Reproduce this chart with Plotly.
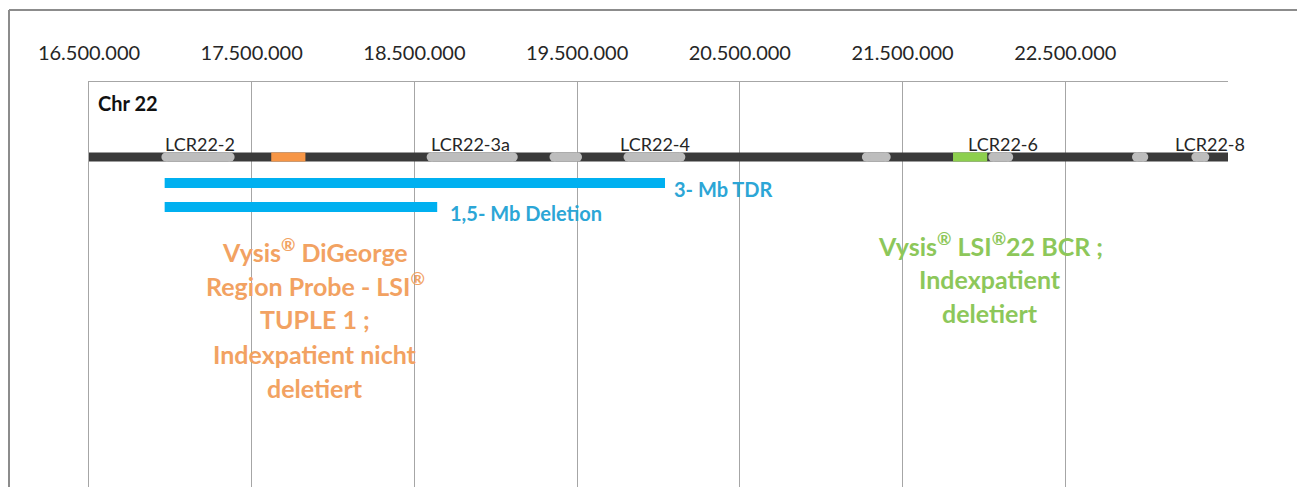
import plotly.graph_objects as go

# ---------------- data ----------------
tick_vals = [16500000, 17500000, 18500000, 19500000, 20500000, 21500000, 22500000]
tick_text = ["16.500.000", "17.500.000", "18.500.000", "19.500.000",
             "20.500.000", "21.500.000", "22.500.000"]
chrom_start = 16500000
chrom_end = 23500000

lcr_starts = [16945000, 18575000, 19330000, 19785000, 21250000, 22027000, 22910000, 23275000]
lcr_ends   = [17395000, 19135000, 19530000, 20165000, 21427000, 22180000, 23010000, 23385000]

lcr_label_names = ["LCR22-2", "LCR22-3a", "LCR22-4", "LCR22-6", "LCR22-8"]
lcr_label_pos   = [17180000, 18845000, 19980000, 22120000, 23390000]

probe_names  = ["DiGeorge", "BCR"]
probe_starts = [17620000, 21810000]
probe_ends   = [17830000, 22020000]

deletion_names  = ["3- Mb TDR", "1,5- Mb Deletion"]
deletion_starts = [16965000, 16965000]
deletion_ends   = [20040000, 18640000]
deletion_label_x = [20080000, 18706000]

orange_lines = ["Vysis<sup>®</sup> DiGeorge", "Region Probe - LSI<sup>®</sup>", "TUPLE 1 ;",
                "Indexpatient nicht", "deletiert"]
green_lines = ["Vysis<sup>®</sup> LSI<sup>®</sup>22 BCR ;", "Indexpatient", "deletiert"]

# ---------------- layout constants ----------------
# page body has an 8px margin, so figure coords = screen coords - 8
W, H = 1297, 479
ML, MR, MT, MB = 81, 77, 74, 0
plot_w = W - ML - MR
plot_h = H - MT - MB
bp_per_px = (chrom_end - chrom_start) / plot_w

FONT = "Lato"
GRID = "#A6A6A6"
DARK = "#3A3A3A"
LCR_GRAY = "#BDBDBD"
BLUE = "#00B0F0"
BLUE_TXT = "#2CA6D6"
ORANGE = "#F79646"
ORANGE_TXT = "#F2A262"
GREEN = "#8DCF4E"
GREEN_TXT = "#8DC75A"

y_chrom, h_chrom = 75, 9
y_del = [101, 125]
h_del = 10

shapes = []
annotations = []

# chromosome bar
shapes.append(dict(type="rect", xref="x", yref="y", x0=chrom_start, x1=chrom_end,
                   y0=y_chrom - h_chrom / 2, y1=y_chrom + h_chrom / 2,
                   fillcolor=DARK, line=dict(width=0), layer="above"))

# LCR pills
r = h_chrom / 2
for s, e in zip(lcr_starts, lcr_ends):
    shapes.append(dict(type="rect", xref="x", yref="y", x0=s + r * bp_per_px, x1=e - r * bp_per_px,
                       y0=y_chrom - h_chrom / 2, y1=y_chrom + h_chrom / 2,
                       fillcolor=LCR_GRAY, line=dict(width=0), layer="above"))
    for xc in (s + r * bp_per_px, e - r * bp_per_px):
        shapes.append(dict(type="circle", xref="x", yref="y", xsizemode="pixel", ysizemode="pixel",
                           xanchor=xc, yanchor=y_chrom, x0=-r, x1=r, y0=-r, y1=r,
                           fillcolor=LCR_GRAY, line=dict(width=0), layer="above"))

# probes
for s, e, c in zip(probe_starts, probe_ends, [ORANGE, GREEN]):
    shapes.append(dict(type="rect", xref="x", yref="y", x0=s, x1=e,
                       y0=y_chrom - h_chrom / 2, y1=y_chrom + h_chrom / 2,
                       fillcolor=c, line=dict(width=0), layer="above"))

# deletions
for s, e, y in zip(deletion_starts, deletion_ends, y_del):
    shapes.append(dict(type="rect", xref="x", yref="y", x0=s, x1=e,
                       y0=y - h_del / 2, y1=y + h_del / 2,
                       fillcolor=BLUE, line=dict(width=0), layer="above"))

# outer frame (screen x=8 -> fig x=1, screen y=10 -> fig y=2)
fy = 1 + (MT - 2) / plot_h
fx = (1 - ML) / plot_w
shapes.append(dict(type="line", xref="paper", yref="paper", x0=fx, x1=1 + MR / plot_w + 0.02, y0=fy, y1=fy,
                   line=dict(color="#8C8C8C", width=2)))
shapes.append(dict(type="line", xref="paper", yref="paper", x0=fx, x1=fx, y0=fy, y1=-0.05,
                   line=dict(color="#8C8C8C", width=2)))

# LCR labels
for name, x in zip(lcr_label_names, lcr_label_pos):
    annotations.append(dict(x=x, y=62, xref="x", yref="y", text=name, showarrow=False,
                            xanchor="center", yanchor="middle",
                            font=dict(family=FONT, size=18, color="#262626")))

# deletion labels
for name, x, y in zip(deletion_names, deletion_label_x, y_del):
    annotations.append(dict(x=x, y=y + 6, xref="x", yref="y", text="<b>" + name + "</b>", showarrow=False,
                            xanchor="left", yanchor="middle",
                            font=dict(family=FONT, size=20, color=BLUE_TXT)))

# Chr 22
annotations.append(dict(x=chrom_start + 7 * bp_per_px, y=21, xref="x", yref="y", text="<b>Chr 22</b>",
                        showarrow=False, xanchor="left", yanchor="middle",
                        font=dict(family=FONT, size=20, color="#111111")))

# orange probe text
for i, line in enumerate(orange_lines):
    annotations.append(dict(x=17890000, y=168 + i * 34.5, xref="x", yref="y", text="<b>" + line + "</b>",
                            showarrow=False, xanchor="center", yanchor="middle",
                            font=dict(family=FONT, size=25, color=ORANGE_TXT)))

# green probe text
for i, line in enumerate(green_lines):
    annotations.append(dict(x=22040000, y=162 + i * 34.5, xref="x", yref="y", text="<b>" + line + "</b>",
                            showarrow=False, xanchor="center", yanchor="middle",
                            font=dict(family=FONT, size=25, color=GREEN_TXT)))

fig = go.Figure()
fig.add_trace(go.Scatter(x=[chrom_start, chrom_end], y=[0, 0], mode="markers",
                         marker=dict(opacity=0), hoverinfo="skip", showlegend=False))

fig.update_layout(
    width=W, height=H,
    margin=dict(l=ML, r=MR, t=MT, b=MB),
    paper_bgcolor="white", plot_bgcolor="white",
    showlegend=False,
    shapes=shapes,
    annotations=annotations,
    xaxis=dict(range=[chrom_start, chrom_end], side="top", tickvals=tick_vals, ticktext=tick_text,
               showgrid=True, gridcolor=GRID, gridwidth=1, showline=True, linecolor=GRID, linewidth=1,
               ticks="", ticklabelstandoff=13, zeroline=False,
               tickfont=dict(family=FONT, size=20, color="#262626")),
    yaxis=dict(range=[plot_h, 0], showgrid=False, zeroline=False, showticklabels=False,
               showline=True, linecolor=GRID, linewidth=1, ticks=""),
)

fig.write_html("out.html")
